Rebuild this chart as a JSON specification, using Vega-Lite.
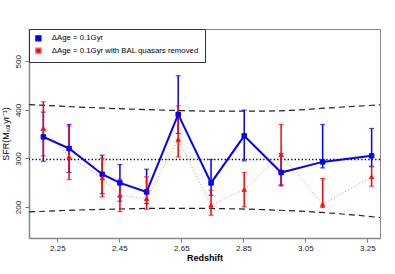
{
  "$schema": "https://vega.github.io/schema/vega-lite/v6.json",
  "width": 351,
  "height": 209,
  "autosize": {"type": "none"},
  "padding": {"left": 29, "top": 29, "right": 15, "bottom": 36},
  "config": {
    "font": "Liberation Sans",
    "view": {"stroke": "#888", "strokeWidth": 1},
    "axis": {"grid": false, "domainColor": "#888", "domainWidth": 1.5, "tickColor": "#777", "tickSize": 4, "labelFontSize": 8, "labelColor": "#222", "titleColor": "#000", "labelFont": "Liberation Sans", "titleFont": "Liberation Sans"},
    "axisX": {"labelPadding": 2, "titlePadding": 1, "titleFontSize": 9, "titleFontWeight": "bold"},
    "axisY": {"labelAngle": -90, "labelPadding": 3, "titleFontSize": 9, "titleFontWeight": "normal", "titlePadding": 4},
    "legend": {"orient": "top-left", "offset": 0, "padding": 5.5, "strokeColor": "#333", "fillColor": "white", "labelFontSize": 7.8, "labelFont": "Liberation Sans", "labelColor": "#000", "labelOffset": 9.5, "rowPadding": 1.3, "symbolSize": 25, "symbolStrokeWidth": 1.3}
  },
  "datasets": {
    "sfr": [
      {"sample": "ΔAge = 0.1Gyr", "z": 2.205, "sfr": 344.5, "lo": 294.4, "hi": 395.5},
      {"sample": "ΔAge = 0.1Gyr", "z": 2.288, "sfr": 320.6, "lo": 271.1, "hi": 370.1},
      {"sample": "ΔAge = 0.1Gyr", "z": 2.395, "sfr": 267.6, "lo": 227.8, "hi": 306.8},
      {"sample": "ΔAge = 0.1Gyr", "z": 2.452, "sfr": 249.7, "lo": 212.0, "hi": 287.6},
      {"sample": "ΔAge = 0.1Gyr", "z": 2.538, "sfr": 231.1, "lo": 207.2, "hi": 277.9},
      {"sample": "ΔAge = 0.1Gyr", "z": 2.640, "sfr": 390.7, "lo": 351.5, "hi": 470.3},
      {"sample": "ΔAge = 0.1Gyr", "z": 2.746, "sfr": 249.7, "lo": 224.3, "hi": 297.9},
      {"sample": "ΔAge = 0.1Gyr", "z": 2.853, "sfr": 346.6, "lo": 295.1, "hi": 399.6},
      {"sample": "ΔAge = 0.1Gyr", "z": 2.972, "sfr": 271.1, "lo": 243.5, "hi": 310.3},
      {"sample": "ΔAge = 0.1Gyr", "z": 3.106, "sfr": 293.0, "lo": 280.6, "hi": 370.1},
      {"sample": "ΔAge = 0.1Gyr", "z": 3.264, "sfr": 305.4, "lo": 284.1, "hi": 361.9},
      {"sample": "ΔAge = 0.1Gyr with BAL quasars removed", "z": 2.205, "sfr": 361.9, "lo": 305.4, "hi": 416.7},
      {"sample": "ΔAge = 0.1Gyr with BAL quasars removed", "z": 2.288, "sfr": 303.3, "lo": 256.7, "hi": 366.6},
      {"sample": "ΔAge = 0.1Gyr with BAL quasars removed", "z": 2.395, "sfr": 260.0, "lo": 220.8, "hi": 300.6},
      {"sample": "ΔAge = 0.1Gyr with BAL quasars removed", "z": 2.452, "sfr": 224.3, "lo": 190.7, "hi": 257.3},
      {"sample": "ΔAge = 0.1Gyr with BAL quasars removed", "z": 2.538, "sfr": 217.5, "lo": 195.5, "hi": 262.1},
      {"sample": "ΔAge = 0.1Gyr with BAL quasars removed", "z": 2.640, "sfr": 339.2, "lo": 303.3, "hi": 408.5},
      {"sample": "ΔAge = 0.1Gyr with BAL quasars removed", "z": 2.746, "sfr": 203.7, "lo": 183.1, "hi": 234.6},
      {"sample": "ΔAge = 0.1Gyr with BAL quasars removed", "z": 2.853, "sfr": 236.1, "lo": 200.2, "hi": 271.1},
      {"sample": "ΔAge = 0.1Gyr with BAL quasars removed", "z": 2.972, "sfr": 308.2, "lo": 246.0, "hi": 370.1},
      {"sample": "ΔAge = 0.1Gyr with BAL quasars removed", "z": 3.106, "sfr": 205.8, "lo": 199.0, "hi": 258.8},
      {"sample": "ΔAge = 0.1Gyr with BAL quasars removed", "z": 3.264, "sfr": 262.1, "lo": 242.9, "hi": 282.7}
    ],
    "bounds": [
      {"edge": "upper", "z": 2.159, "v": 411.0},
      {"edge": "upper", "z": 2.3, "v": 406.5},
      {"edge": "upper", "z": 2.45, "v": 402.5},
      {"edge": "upper", "z": 2.6, "v": 399.5},
      {"edge": "upper", "z": 2.75, "v": 397.5},
      {"edge": "upper", "z": 2.9, "v": 397.5},
      {"edge": "upper", "z": 3.0, "v": 399.0},
      {"edge": "upper", "z": 3.1, "v": 403.0},
      {"edge": "upper", "z": 3.2, "v": 407.0},
      {"edge": "upper", "z": 3.291, "v": 410.5},
      {"edge": "lower", "z": 2.159, "v": 190.0},
      {"edge": "lower", "z": 2.3, "v": 193.5},
      {"edge": "lower", "z": 2.45, "v": 196.0},
      {"edge": "lower", "z": 2.6, "v": 197.5},
      {"edge": "lower", "z": 2.75, "v": 197.0},
      {"edge": "lower", "z": 2.9, "v": 195.0},
      {"edge": "lower", "z": 3.0, "v": 192.5},
      {"edge": "lower", "z": 3.1, "v": 189.0},
      {"edge": "lower", "z": 3.2, "v": 184.0},
      {"edge": "lower", "z": 3.291, "v": 178.5}
    ],
    "mean": [{"v": 298}]
  },
  "layer": [
    {
      "data": {"name": "bounds"},
      "mark": {"type": "line", "color": "#222", "strokeWidth": 1.2, "strokeDash": [6, 4], "interpolate": "monotone"},
      "encoding": {
        "x": {"field": "z", "type": "quantitative", "scale": {"domain": [2.1587, 3.291], "nice": false, "zero": false}, "title": "Redshift", "axis": {"values": [2.25, 2.35, 2.45, 2.55, 2.65, 2.75, 2.85, 2.95, 3.05, 3.15, 3.25], "format": ".2f"}},
        "y": {"field": "v", "type": "quantitative", "scale": {"domain": [136.3, 566.6], "nice": false, "zero": false}, "title": "SFR(Mₛₒₗyr⁻¹)", "axis": {"values": [200, 300, 400, 500]}},
        "detail": {"field": "edge"}
      }
    },
    {
      "data": {"name": "mean"},
      "mark": {"type": "rule", "color": "#000", "strokeWidth": 1.4, "strokeDash": [1.3, 2.2]},
      "encoding": {
        "y": {"field": "v", "type": "quantitative", "scale": {"domain": [136.3, 566.6], "nice": false, "zero": false}, "title": "SFR(Mₛₒₗyr⁻¹)"}
      }
    },
    {
      "data": {"name": "sfr"},
      "transform": [{"filter": "indexof(datum.sample, 'BAL') >= 0"}],
      "mark": {"type": "line", "color": "#ff8c8c", "strokeWidth": 1, "strokeDash": [1.2, 2]},
      "encoding": {
        "x": {"field": "z", "type": "quantitative", "scale": {"domain": [2.1587, 3.291], "nice": false, "zero": false}, "title": "Redshift"},
        "y": {"field": "sfr", "type": "quantitative", "scale": {"domain": [136.3, 566.6], "nice": false, "zero": false}, "title": "SFR(Mₛₒₗyr⁻¹)"}
      }
    },
    {
      "data": {"name": "sfr"},
      "transform": [{"filter": "indexof(datum.sample, 'BAL') < 0"}],
      "mark": {"type": "errorbar", "color": "#0000ff", "thickness": 1.5, "ticks": {"size": 5, "thickness": 1.2}},
      "encoding": {
        "x": {"field": "z", "type": "quantitative", "scale": {"domain": [2.1587, 3.291], "nice": false, "zero": false}, "title": "Redshift"},
        "y": {"field": "lo", "type": "quantitative", "scale": {"domain": [136.3, 566.6], "nice": false, "zero": false}, "title": "SFR(Mₛₒₗyr⁻¹)"},
        "y2": {"field": "hi"}
      }
    },
    {
      "data": {"name": "sfr"},
      "transform": [{"filter": "indexof(datum.sample, 'BAL') >= 0"}],
      "mark": {"type": "errorbar", "color": "#ff0000", "thickness": 1.5, "ticks": {"size": 5, "thickness": 1.2}},
      "encoding": {
        "x": {"field": "z", "type": "quantitative", "scale": {"domain": [2.1587, 3.291], "nice": false, "zero": false}, "title": "Redshift"},
        "y": {"field": "lo", "type": "quantitative", "scale": {"domain": [136.3, 566.6], "nice": false, "zero": false}, "title": "SFR(Mₛₒₗyr⁻¹)"},
        "y2": {"field": "hi"}
      }
    },
    {
      "data": {"name": "sfr"},
      "transform": [{"filter": "indexof(datum.sample, 'BAL') < 0"}],
      "mark": {"type": "line", "color": "#0000ff", "strokeWidth": 2},
      "encoding": {
        "x": {"field": "z", "type": "quantitative", "scale": {"domain": [2.1587, 3.291], "nice": false, "zero": false}, "title": "Redshift"},
        "y": {"field": "sfr", "type": "quantitative", "scale": {"domain": [136.3, 566.6], "nice": false, "zero": false}, "title": "SFR(Mₛₒₗyr⁻¹)"}
      }
    },
    {
      "data": {"name": "sfr"},
      "transform": [{"filter": "indexof(datum.sample, 'BAL') < 0"}],
      "mark": {"type": "point", "shape": "square", "filled": true, "opacity": 1, "size": 20, "strokeWidth": 1},
      "encoding": {
        "x": {"field": "z", "type": "quantitative", "scale": {"domain": [2.1587, 3.291], "nice": false, "zero": false}, "title": "Redshift"},
        "y": {"field": "sfr", "type": "quantitative", "scale": {"domain": [136.3, 566.6], "nice": false, "zero": false}, "title": "SFR(Mₛₒₗyr⁻¹)"},
        "color": {
          "field": "sample", "type": "nominal", "title": null,
          "scale": {"domain": ["ΔAge = 0.1Gyr", "ΔAge = 0.1Gyr with BAL quasars removed"], "range": ["#0000ff", "#ff0000"]},
          "legend": {
            "title": null,
            "encode": {
              "symbols": {
                "shape": {"value": {"expr": "indexof(datum.value, 'BAL') < 0 ? 'M-2.9,0H2.9M-0.9,-0.9H0.9V0.9H-0.9Z' : 'M-2.9,0H2.9M0,-1.1L1.1,0.8H-1.1Z'"}},
                "strokeWidth": {"value": 1.3},
                "strokeDash": {"value": {"expr": "indexof(datum.value, 'BAL') < 0 ? [] : [1.5, 1.5]"}}
              }
            }
          }
        },
        "stroke": {
          "field": "sample", "type": "nominal", "title": null,
          "scale": {"domain": ["ΔAge = 0.1Gyr", "ΔAge = 0.1Gyr with BAL quasars removed"], "range": ["#0000ff", "#ff5555"]}
        }
      }
    },
    {
      "data": {"name": "sfr"},
      "transform": [{"filter": "indexof(datum.sample, 'BAL') >= 0"}],
      "mark": {"type": "point", "shape": "triangle-up", "filled": true, "opacity": 1, "size": 20, "color": "#ff0000", "stroke": "#ff2020", "strokeWidth": 1},
      "encoding": {
        "x": {"field": "z", "type": "quantitative", "scale": {"domain": [2.1587, 3.291], "nice": false, "zero": false}, "title": "Redshift"},
        "y": {"field": "sfr", "type": "quantitative", "scale": {"domain": [136.3, 566.6], "nice": false, "zero": false}, "title": "SFR(Mₛₒₗyr⁻¹)"}
      }
    }
  ]
}
